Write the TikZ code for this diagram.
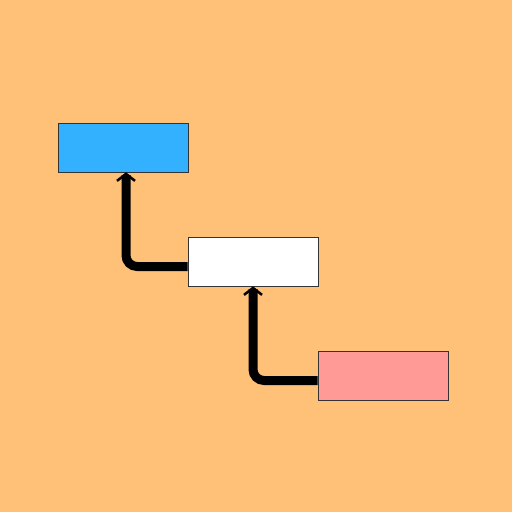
\documentclass[tikz,border=0pt]{standalone}
\usetikzlibrary{arrows.meta}

\definecolor{bgorange}{HTML}{FFC177}
\definecolor{boxblue}{HTML}{33B1FF}
\definecolor{boxpink}{HTML}{FF9A96}

\begin{document}
\begin{tikzpicture}[
  x=1pt,
  y=-1pt,
  stage/.style={
    draw=black!80,
    line width=0.6pt,
    minimum width=130pt,
    minimum height=49pt,
    inner sep=0pt
  },
  stage top/.style={
    fill=boxblue,
  },
  stage mid/.style={
    fill=white,
  },
  stage low/.style={
    fill=boxpink,
  },
  link/.style={
    draw,
    black,
    line width=9pt,
    rounded corners=11pt,
    -{Straight Barb[length=7pt,width=18pt,line width=2.5pt]}
  },
]
\fill[bgorange] (0,0) rectangle (512,512);
\useasboundingbox (0,0) rectangle (512,512);

\node[stage, stage top] (top) at (123,147.5) {};
\node[stage, stage mid] (mid) at (253,261.5) {};
\node[stage, stage low] (low) at (383,375.5) {};

\draw[link] ([yshift=-5pt]mid.west) -| ([xshift=3pt]top.south);
\draw[link] ([yshift=-5pt]low.west) -| (mid.south);
\end{tikzpicture}
\end{document}
